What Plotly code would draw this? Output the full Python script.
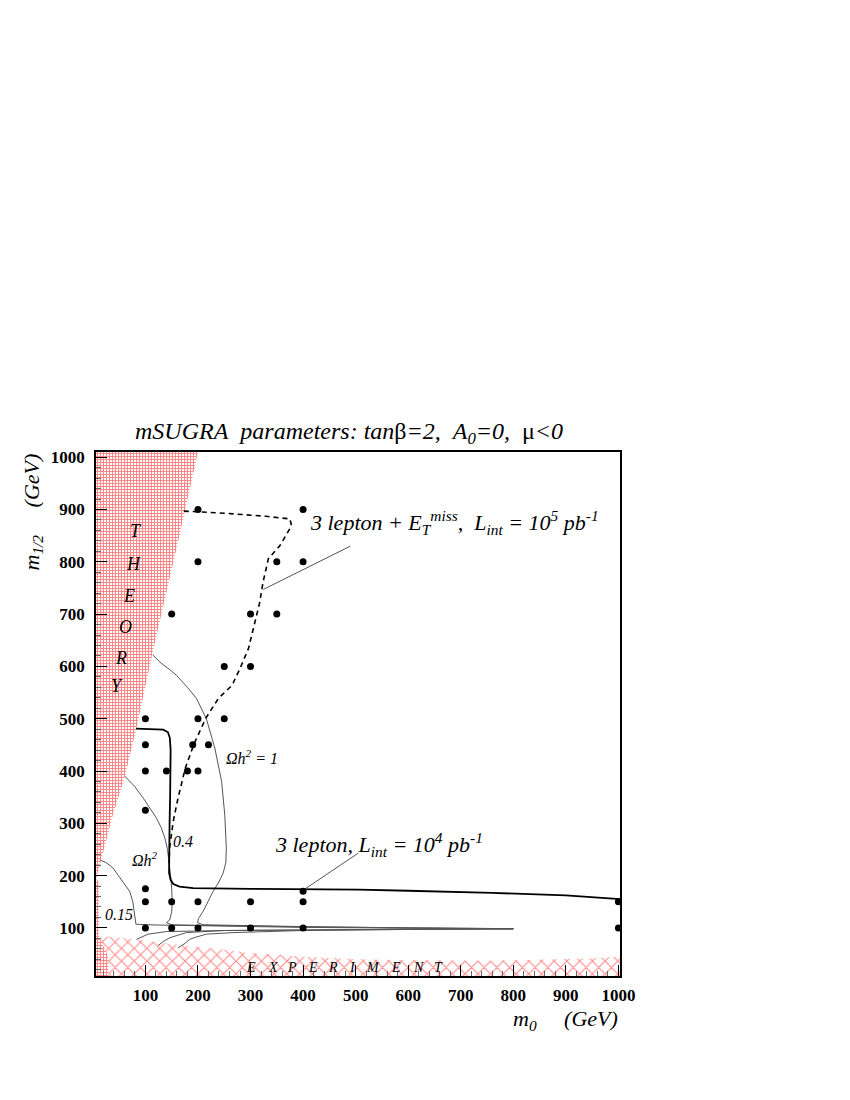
import plotly.graph_objects as go

# --- data (m0, m1/2 in GeV) ---
theory_m0 = [6, 200, 159, 114, 83, 61, 38, 19, 6]
theory_m12 = [1010, 1010, 825, 628, 482, 390, 316, 240, 193]
theory_low_m0 = [6, 6, 11, 11, 14, 22, 29, 30]
theory_low_m12 = [8, 193, 190, 85, 75, 62, 45, 8]

expt_m0 = [6, 6, 40, 83, 140, 191, 250, 292, 400, 508, 600, 759, 850, 950, 1003, 1003]
expt_m12 = [8, 86, 82, 78, 70, 65, 58, 53, 45, 40, 38, 37, 39, 42, 45, 8]

# 3 lepton + Etmiss, 1e5 pb-1 (dashed)
lep_met_m0 = [173, 250, 330, 375, 378, 356, 334, 330, 324, 317, 306, 296, 280, 265, 239, 215, 193, 176, 162, 153, 146, 145]
lep_met_m12 = [897, 893, 887, 882, 869, 831, 806, 787, 762, 720, 672, 634, 596, 564, 539, 501, 453, 406, 348, 304, 253, 225]

# 3 lepton, 1e4 pb-1 (solid)
lep_m0 = [82, 134, 143, 146.5, 148, 148, 147, 146, 145, 145, 148, 153, 165, 191, 300, 400, 505, 600, 760, 900, 1003]
lep_m12 = [481, 479, 474, 463, 440, 400, 350, 300, 250, 205, 192, 184, 179, 176, 174.5, 174, 173, 171, 167, 162, 155]

# relic density contours
om1_m0 = [114, 130, 145, 159, 180, 197, 216, 232, 245, 251, 254, 253, 248, 240, 229, 219, 210, 201, 199, 210, 300, 400, 600, 800,
          600, 400, 267, 216, 195, 184, 175, 162]
om1_m12 = [622, 606, 595, 583, 560, 539, 500, 444, 380, 316, 253, 225, 205, 188, 170, 150, 132, 118, 110, 106, 104, 102.5, 100, 98.5,
           97, 95, 91, 88, 82, 78, 70, 62]
om04_m0 = [61, 80, 96, 110, 121, 130, 137, 142, 145, 148, 150, 151, 150, 146, 140, 150, 200, 300, 400, 600, 800,
           600, 400, 250, 178, 160, 146, 134, 124]
om04_m12 = [390, 370, 348, 328, 310, 292, 272, 250, 228, 200, 175, 150, 130, 115, 110, 106, 105, 103, 102, 100, 98.5,
            97.5, 96.5, 95, 91, 86, 81, 74, 66]
om015_m0 = [13, 25, 38, 51, 62, 70, 76, 79, 82, 120, 200, 300, 400, 600, 800, 600, 400, 250, 140, 105, 83]
om015_m12 = [230, 225, 215, 197, 183, 170, 150, 130, 107, 105.5, 104, 102.5, 101, 99.5, 98, 97, 96, 95, 93, 88, 78]

# scan points
pts_m0 = [200, 400, 200, 350, 400, 150, 300, 350, 250, 300, 100, 200, 250, 100, 190, 220, 100, 140, 180, 200, 100,
          100, 400, 100, 150, 200, 300, 400, 1000, 100, 150, 200, 300, 400, 1000]
pts_m12 = [900, 900, 800, 800, 800, 700, 700, 700, 600, 600, 500, 500, 500, 450, 450, 450, 400, 400, 400, 400, 325,
           175, 170, 150, 150, 150, 150, 150, 150, 100, 100, 100, 100, 100, 100]

theory_letters = ["T", "H", "E", "O", "R", "Y"]
theory_let_m0 = [82, 78, 69, 63, 53, 45]
theory_let_m12 = [858, 796, 735, 676, 617, 563]
expt_letters = ["E", "X", "P", "E", "R", "I", "M", "E", "N", "T"]
expt_let_m0 = [301, 343, 379, 419, 457, 494, 533, 577, 619, 657]
expt_let_m12 = [24] * 10

SERIF = "Liberation Serif, Times New Roman, serif"

fig = go.Figure()

# excluded regions
fig.add_trace(go.Scatter(x=expt_m0, y=expt_m12, fill="toself", mode="lines", line=dict(width=0),
                         fillcolor="white",
                         fillpattern=dict(shape="x", fgcolor="#ff2020", bgcolor="white", size=9, solidity=0.25),
                         hoverinfo="skip", showlegend=False))
for xs, ys in [(theory_m0, theory_m12), (theory_low_m0, theory_low_m12)]:
    fig.add_trace(go.Scatter(x=xs, y=ys, fill="toself", mode="lines", line=dict(width=0),
                             fillcolor="white",
                             fillpattern=dict(shape="+", fgcolor="#ff1010", bgcolor="white", size=3, solidity=0.55),
                             hoverinfo="skip", showlegend=False))

# Omega h^2 contours
for xs, ys in [(om1_m0, om1_m12), (om04_m0, om04_m12), (om015_m0, om015_m12)]:
    fig.add_trace(go.Scatter(x=xs, y=ys, mode="lines", line=dict(color="#555555", width=1),
                             hoverinfo="skip", showlegend=False))

# reach curves
fig.add_trace(go.Scatter(x=lep_met_m0, y=lep_met_m12, mode="lines",
                         line=dict(color="black", width=1.6, dash="5px,4px"), showlegend=False))
fig.add_trace(go.Scatter(x=lep_m0, y=lep_m12, mode="lines",
                         line=dict(color="black", width=1.8), showlegend=False))

# pointer lines
fig.add_trace(go.Scatter(x=[324, 490], y=[747, 830], mode="lines",
                         line=dict(color="#555555", width=1), showlegend=False))
fig.add_trace(go.Scatter(x=[400, 505], y=[172, 243], mode="lines",
                         line=dict(color="#555555", width=1), showlegend=False))

# points
fig.add_trace(go.Scatter(x=pts_m0, y=pts_m12, mode="markers",
                         marker=dict(color="black", size=7), cliponaxis=False, showlegend=False))

ann = []
for t, x, y in zip(theory_letters, theory_let_m0, theory_let_m12):
    ann.append(dict(x=x, y=y, text=f"<i>{t}</i>", showarrow=False, font=dict(size=18)))
for t, x, y in zip(expt_letters, expt_let_m0, expt_let_m12):
    ann.append(dict(x=x, y=y, text=f"<i>{t}</i>", showarrow=False, font=dict(size=14)))

ann += [
    dict(x=303, y=426, text="<i>Ωh<sup>2</sup> = 1</i>", showarrow=False, font=dict(size=16)),
    dict(x=99, y=232, text="<i>Ωh<sup>2</sup></i>", showarrow=False, font=dict(size=16)),
    dict(x=172, y=266, text="<i>0.4</i>", showarrow=False, font=dict(size=16)),
    dict(x=50, y=126, text="<i>0.15</i>", showarrow=False, font=dict(size=16)),
    dict(x=967, y=876, xanchor="right", showarrow=False, font=dict(size=22),
         text="<i>3 lepton + E<sub>T</sub><sup>miss</sup>,\u00a0 L<sub>int</sub> = 10<sup>5</sup> pb<sup>-1</sup></i>"),
    dict(x=343, y=259, xanchor="left", showarrow=False, font=dict(size=22),
         text="<i>3 lepton, L<sub>int</sub> = 10<sup>4</sup> pb<sup>-1</sup></i>"),
    # title
    dict(xref="paper", yref="paper", x=0.483, y=1.069, showarrow=False, font=dict(size=24),
         text="<i>mSUGRA\u00a0 parameters: tan</i>β<i>=2,\u00a0 A<sub>0</sub>=0,\u00a0 </i>μ<i>&lt;0</i>"),
    # axis titles
    dict(xref="paper", yref="paper", x=1.0, y=0, xanchor="right", yanchor="top", yshift=-28,
         showarrow=False, font=dict(size=22), text="<i>m<sub>0</sub>\u00a0\u00a0\u00a0\u00a0 (GeV)</i>"),
    dict(xref="paper", yref="paper", x=0, y=1.0, xanchor="center", yanchor="top", xshift=-64,
         textangle=-90, showarrow=False, font=dict(size=22),
         text="<i>m<sub>1/2</sub>\u00a0\u00a0\u00a0\u00a0 (GeV)</i>"),
]

axis_common = dict(showgrid=False, zeroline=False, showline=True, mirror=True, linecolor="black", linewidth=1.5,
                   ticks="inside", ticklen=11, tickwidth=1, tickcolor="black", tick0=0, dtick=100,
                   minor=dict(ticks="inside", ticklen=5, dtick=20, tick0=0, tickcolor="#666666"),
                   automargin=False,
                   tickfont=dict(family=SERIF, size=17, color="black", weight="bold"))

fig.update_layout(
    width=850, height=1100,
    margin=dict(l=88, r=238, t=444, b=132, autoexpand=False),
    plot_bgcolor="white", paper_bgcolor="white",
    font=dict(family=SERIF, color="black"),
    xaxis=dict(range=[6, 1003], ticklabelstandoff=3, **axis_common),
    yaxis=dict(range=[8, 1010], ticklabelstandoff=6, **axis_common),
    annotations=ann,
)

fig.write_html("out.html")
